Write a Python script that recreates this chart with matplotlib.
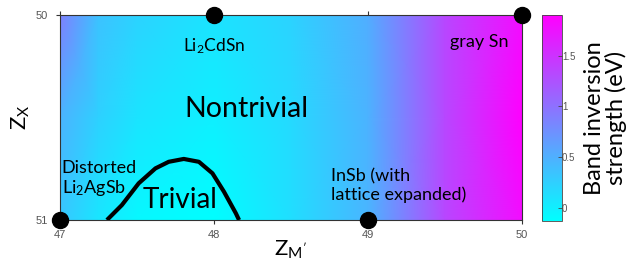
import numpy as np
import matplotlib
matplotlib.use("Agg")
import matplotlib.pyplot as plt

plt.rcParams['font.family'] = ['Lato', 'DejaVu Sans']
plt.rcParams['mathtext.fontset'] = 'custom'
plt.rcParams['mathtext.rm'] = 'Lato'
plt.rcParams['mathtext.it'] = 'Lato:italic'
plt.rcParams['mathtext.default'] = 'regular'

zm_grid = [47, 47.25, 47.5, 48, 48.5, 49, 49.5, 50]
zx_grid = [50, 50.5, 51]
strength = [
    [0.89, 0.36, 0.22, 0.09, 0.22, 0.52, 1.33, 1.80],
    [0.48, 0.24, 0.09, -0.01, 0.17, 0.48, 1.33, 1.90],
    [0.32, 0.07, -0.07, -0.13, 0.13, 0.46, 1.33, 1.80],
]
vmin, vmax = -0.13, 1.9

# trivial / nontrivial boundary
boundary_x = [47.305, 47.402, 47.511, 47.620, 47.706, 47.804, 47.902, 47.990, 48.065, 48.142, 48.163]
boundary_y = [51.0, 50.927, 50.821, 50.748, 50.716, 50.702, 50.716, 50.772, 50.862, 50.967, 51.0]

# compounds
pt_x = [48, 50, 47, 49]
pt_y = [50, 50, 51, 51]

xticks = [47, 48, 49, 50]
yticks = [50, 51]
cbar_ticks = [0, 0.5, 1, 1.5]

fig = plt.figure(figsize=(6.36, 2.61), dpi=100)
ax = fig.add_axes([0.0943, 0.157, 0.7264, 0.7854])
cax = fig.add_axes([0.8517, 0.153, 0.0318, 0.789])

X, Y = np.meshgrid(zm_grid, zx_grid)
mesh = ax.pcolormesh(X, Y, np.array(strength), shading='gouraud', cmap='cool',
                     vmin=vmin, vmax=vmax)
ax.plot(boundary_x, boundary_y, color='black', lw=3, solid_capstyle='butt',
        solid_joinstyle='round')
ax.plot(pt_x, pt_y, 'o', color='black', markersize=11.5, clip_on=False, zorder=5)

ax.set_xlim(47, 50)
ax.set_ylim(51, 50)
ax.set_xticks(xticks)
ax.set_yticks(yticks)
ax.tick_params(axis='both', direction='out', length=3, width=0.8, color='#333333',
               labelsize=8, labelcolor='#555555', top=True)
ax.tick_params(axis='y', pad=6)
ax.tick_params(axis='x', pad=4)
for lab in ax.get_xticklabels() + ax.get_yticklabels():
    lab.set_family('Liberation Sans')
for s in ax.spines.values():
    s.set_color('#333333')
    s.set_linewidth(0.8)

ax.set_xlabel("Z$_{M'}$", fontsize=16, labelpad=-1)
ax.set_ylabel("Z$_X$", fontsize=16, labelpad=2)

ax.text(48, 50.15, "Li$_2$CdSn", fontsize=12.5, ha='center', va='center')
ax.text(48.21, 50.46, "Nontrivial", fontsize=20.5, ha='center', va='center')
ax.text(47.78, 50.9, "Trivial", fontsize=20, ha='center', va='center')
ax.text(47.01, 50.8, "Distorted\nLi$_2$AgSb", fontsize=13, ha='left', va='center',
        linespacing=1.15)
ax.text(48.76, 50.83, "InSb (with\nlattice expanded)", fontsize=13, ha='left', va='center',
        linespacing=1.15)
ax.text(49.72, 50.13, "gray Sn", fontsize=13, ha='center', va='center')

cb = fig.colorbar(mesh, cax=cax)
cb.set_ticks(cbar_ticks)
cb.set_ticklabels(['0', '0.5', '1', '1.5'])
cax.tick_params(direction='in', length=3, width=0.6, color='#444444', labelsize=7,
                labelcolor='#555555', pad=0)
for lab in cax.get_yticklabels():
    lab.set_family('Liberation Sans')
cb.outline.set_edgecolor('#444444')
cb.outline.set_linewidth(0.6)
cax.set_ylabel("Band inversion\nstrength (eV)", fontsize=17, labelpad=6, linespacing=1.0)

fig.savefig("out.png", dpi=100)
